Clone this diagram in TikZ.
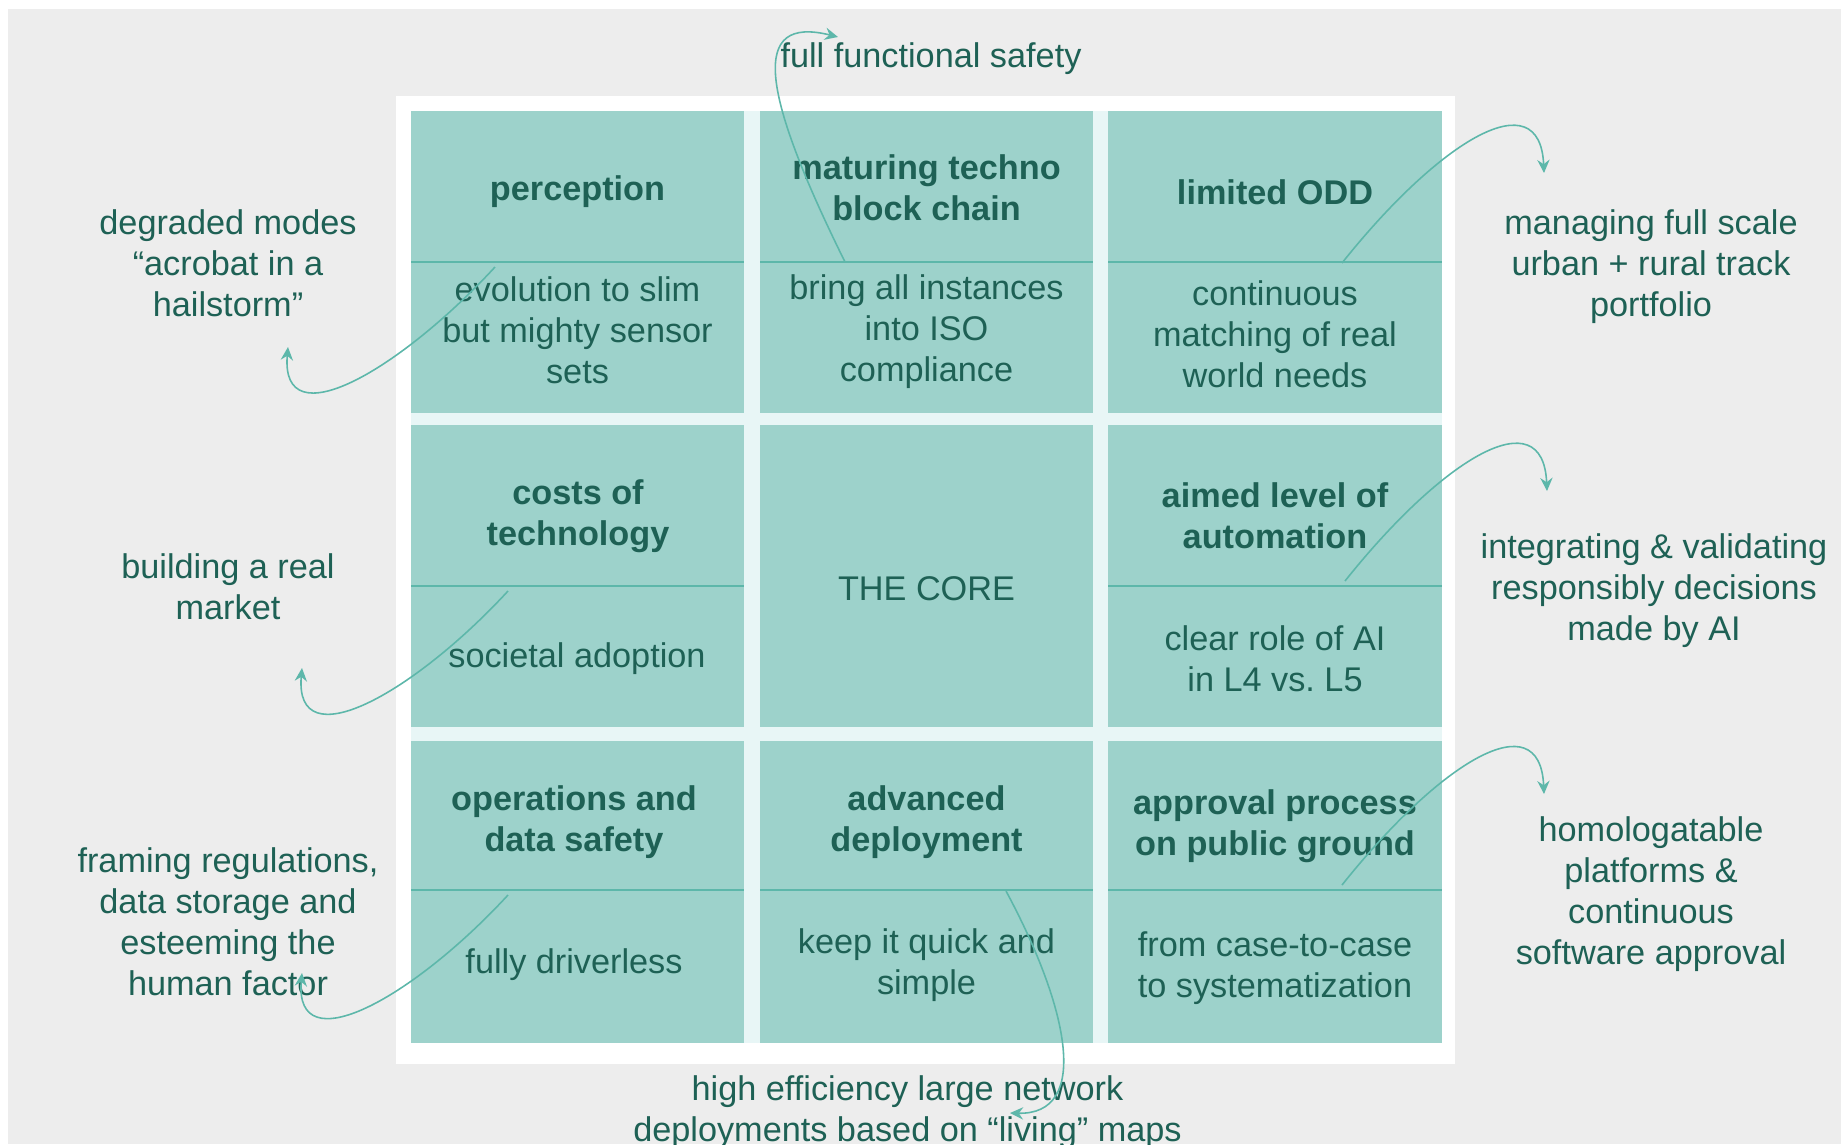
\documentclass[tikz,border=0pt]{standalone}
\usepackage{fontspec}
\setmainfont{Liberation Sans}
\usetikzlibrary{arrows.meta}
\definecolor{bggrey}{HTML}{EDEDED}
\definecolor{cellfill}{HTML}{9DD2CB}
\definecolor{gapfill}{HTML}{E8F6F6}
\definecolor{inktext}{HTML}{1E6155}
\definecolor{linkline}{HTML}{5DB7AA}
\tikzset{
  txt/.style={align=center,text=inktext,inner sep=0pt,font=\fontsize{19.5}{23.3}\selectfont},
  head/.style={txt,font=\fontsize{19.5}{23.3}\selectfont\bfseries},
  divider/.style={linkline,line width=1pt},
  link/.style={linkline,line width=0.9pt,-{Stealth[length=7.5pt,width=7pt,inset=2.5pt]}}
}

\begin{document}
\begin{tikzpicture}[x=0.02cm,y=-0.02cm]
    \useasboundingbox (0,0) rectangle (1841,1144);
    \fill [white] (0,0) rectangle (1841,1144);
    \fill [bggrey] (8,9) rectangle (1841,1144);
    \fill [white] (396,96) rectangle (1455,1064);
    \fill [gapfill] (411,111) rectangle (1442,1043);

    % cells
    \fill [cellfill] (411,111) rectangle (744,413);
    \fill [cellfill] (760,111) rectangle (1093,413);
    \fill [cellfill] (1108,111) rectangle (1442,413);
    \fill [cellfill] (411,425) rectangle (744,727);
    \fill [cellfill] (760,425) rectangle (1093,727);
    \fill [cellfill] (1108,425) rectangle (1442,727);
    \fill [cellfill] (411,741) rectangle (744,1043);
    \fill [cellfill] (760,741) rectangle (1093,1043);
    \fill [cellfill] (1108,741) rectangle (1442,1043);

    \draw [divider] (411,262) -- (744,262);
    \draw [divider] (760,262) -- (1093,262);
    \draw [divider] (1108,262) -- (1442,262);
    \draw [divider] (411,586) -- (744,586);
    \draw [divider] (1108,586) -- (1442,586);
    \draw [divider] (411,890) -- (744,890);
    \draw [divider] (760,890) -- (1093,890);
    \draw [divider] (1108,890) -- (1442,890);

    \node [head] (h11) at (577.5,192) {perception};
    \node [txt] (b11) at (577.5,330) {evolution to slim\\but mighty sensor\\sets};
    \node [head] (h12) at (926.5,188) {maturing techno\\block chain};
    \node [txt] (b12) at (926.5,332) {bring all instances\\into ISO\\compliance};
    \node [head] (h13) at (1275,192) {limited ODD};
    \node [txt] (b13) at (1275,334) {continuous\\matching of real\\world needs};

    \node [head] (h21) at (578,516) {costs of\\technology};
    \node [txt] (b21) at (577,659) {societal adoption};
    \node [txt] (core) at (926.5,589) {THE CORE};
    \node [head] (h23) at (1275,516) {aimed level of\\automation};
    \node [txt] (b23) at (1275,659) {clear role of AI\\in L4 vs.\ L5};

    \node [head] (h31) at (574,822) {operations and\\data safety};
    \node [txt] (b31) at (574,965) {fully driverless};
    \node [head] (h32) at (926.5,822) {advanced\\deployment};
    \node [txt] (b32) at (926.5,965) {keep it quick and\\simple};
    \node [head] (h33) at (1275,826) {approval process\\on public ground};
    \node [txt] (b33) at (1275,968) {from case-to-case\\to systematization};

    % outer goals
    \node [txt] (o11) at (228,263) {degraded modes\\“acrobat in a\\hailstorm”};
    \node [txt] (o21) at (228,587) {building a real\\market};
    \node [txt] (o31) at (228,922) {framing regulations,\\data storage and\\esteeming the\\human factor};
    \node [txt] (o13) at (1651,267) {managing full scale\\urban + rural track\\portfolio};
    \node [txt] (o23) at (1654,591) {integrating \& validating\\responsibly decisions\\made by AI};
    \node [txt] (o33) at (1651,894) {homologatable\\platforms \&\\continuous\\software approval};
    \node [txt] (otop) at (931,59) {full functional safety};
    \node [txt] (obot) at (907.5,1112) {high efficiency large network\\deployments based on “living” maps};

    \coordinate (a11s) at (495,267);  \coordinate (a11e) at (288,347);
    \coordinate (a21s) at (508,591);  \coordinate (a21e) at (302,668);
    \coordinate (a31s) at (508,895);  \coordinate (a31e) at (302,973);
    \coordinate (a13s) at (1342,263); \coordinate (a13e) at (1544,173);
    \coordinate (a23s) at (1345,581); \coordinate (a23e) at (1547,491);
    \coordinate (a33s) at (1342,885); \coordinate (a33e) at (1544,794);
    \coordinate (a12s) at (845,262);  \coordinate (a12e) at (838,37);
    \coordinate (a32s) at (1006,891); \coordinate (a32e) at (1010,1113);

    \draw [link] (a11s) .. controls (400,370) and (280,440) .. (a11e);
    \draw [link] (a21s) .. controls (413,694) and (294,760) .. (a21e);
    \draw [link] (a31s) .. controls (413,998) and (294,1064) .. (a31e);
    \draw [link] (a13s) .. controls (1440,140) and (1540,80) .. (a13e);
    \draw [link] (a23s) .. controls (1443,458) and (1543,398) .. (a23e);
    \draw [link] (a33s) .. controls (1440,762) and (1540,701) .. (a33e);
    \draw [link] (a12s) .. controls (760,90) and (750,15) .. (a12e);
    \draw [link] (a32s) .. controls (1070,1010) and (1090,1115) .. (a32e);
\end{tikzpicture}
\end{document}
